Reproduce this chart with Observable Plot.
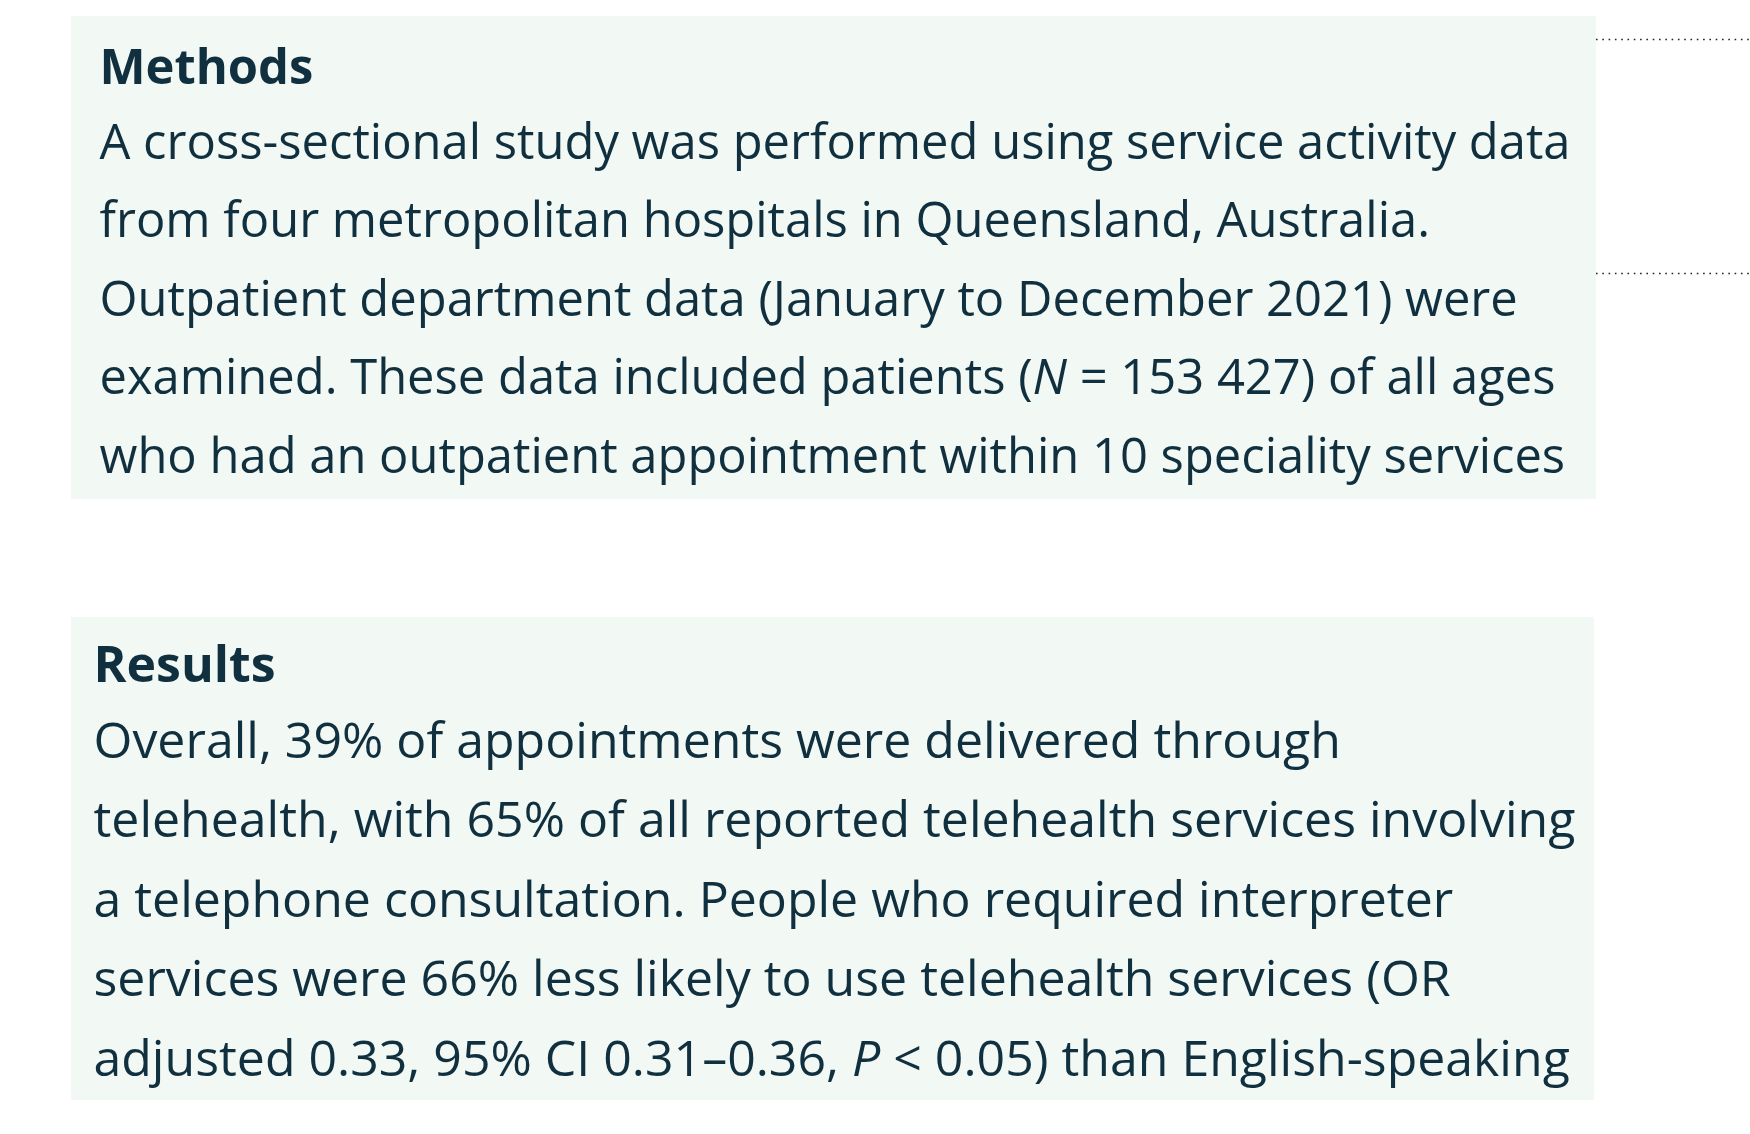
<!DOCTYPE html>
<html>
<head>
<meta charset="utf-8">
<script src="https://cdn.jsdelivr.net/npm/d3@7"></script>
<script src="https://cdn.jsdelivr.net/npm/@observablehq/plot@0.6"></script>
<style>
  html, body { margin: 0; padding: 0; background: #ffffff; }
  #chart svg { display: block; }
</style>
</head>
<body>
<div id="chart"></div>
<script>
// ---- content ----
const headings = ["Methods", "Results"];
const methodsLines = [
  "A cross-sectional study was performed using service activity data",
  "from four metropolitan hospitals in Queensland, Australia.",
  "Outpatient department data (January to December 2021) were",
  "examined. These data included patients (*N* = 153 427) of all ages",
  "who had an outpatient appointment within 10 speciality services"
];
const resultsLines = [
  "Overall, 39% of appointments were delivered through",
  "telehealth, with 65% of all reported telehealth services involving",
  "a telephone consultation. People who required interpreter",
  "services were 66% less likely to use telehealth services (OR",
  "adjusted 0.33, 95% CI 0.31–0.36, *P* < 0.05) than English-speaking"
];

// ---- layout ----
const W = 1750, H = 1134;
const panels = [
  {name: headings[0], lines: methodsLines, x1: 71, x2: 1596, y1: 16, y2: 499, tx: 99, titleBase: 83, firstBase: 158, lh: 78.5, size: 48.9},
  {name: headings[1], lines: resultsLines, x1: 71, x2: 1594, y1: 617, y2: 1100, tx: 93, titleBase: 681, firstBase: 757, lh: 79.5, size: 50}
];
const textColor = "#10303f";
const boxColor = "#f2f8f3";

const titleData = panels.map(p => ({text: p.name, x: p.tx, y: p.titleBase, size: p.size}));
const bodyData = panels.flatMap(p => p.lines.map((t, i) => ({text: t, x: p.tx, y: p.firstBase + i * p.lh, size: p.size})));

const marks = [
  Plot.rect(panels, {x1: "x1", x2: "x2", y1: "y1", y2: "y2", fill: boxColor}),
  Plot.ruleY([39, 273], {x1: 1596, x2: W, stroke: "#222", strokeWidth: 1.6, strokeDasharray: "1.6,4.7"}),
];
for (const p of panels) {
  marks.push(Plot.text(titleData.filter(d => d.text === p.name), {x: "x", y: "y", text: "text", textAnchor: "start", lineAnchor: "bottom", fontSize: p.size, fontWeight: 700, fill: textColor}));
  marks.push(Plot.text(bodyData.filter(d => p.lines.includes(d.text)), {x: "x", y: "y", text: "text", textAnchor: "start", lineAnchor: "bottom", fontSize: p.size, fontWeight: 400, fill: textColor}));
}

const chart = Plot.plot({
  width: W,
  height: H,
  margin: 0,
  x: {domain: [0, W], range: [0, W], axis: null},
  y: {domain: [0, H], range: [0, H], axis: null},
  style: {fontFamily: "'Open Sans', 'DejaVu Sans', sans-serif", background: "#ffffff", overflow: "visible"},
  marks
});

// italics for *...* segments
d3.select(chart).selectAll("text").each(function () {
  const s = this.textContent;
  if (!s.includes("*")) return;
  const parts = s.split("*");
  this.textContent = "";
  parts.forEach((part, i) => {
    if (!part) return;
    const ts = document.createElementNS("http://www.w3.org/2000/svg", "tspan");
    ts.textContent = part;
    if (i % 2 === 1) ts.setAttribute("font-style", "italic");
    this.appendChild(ts);
  });
});

document.getElementById("chart").appendChild(chart);
</script>
</body>
</html>
